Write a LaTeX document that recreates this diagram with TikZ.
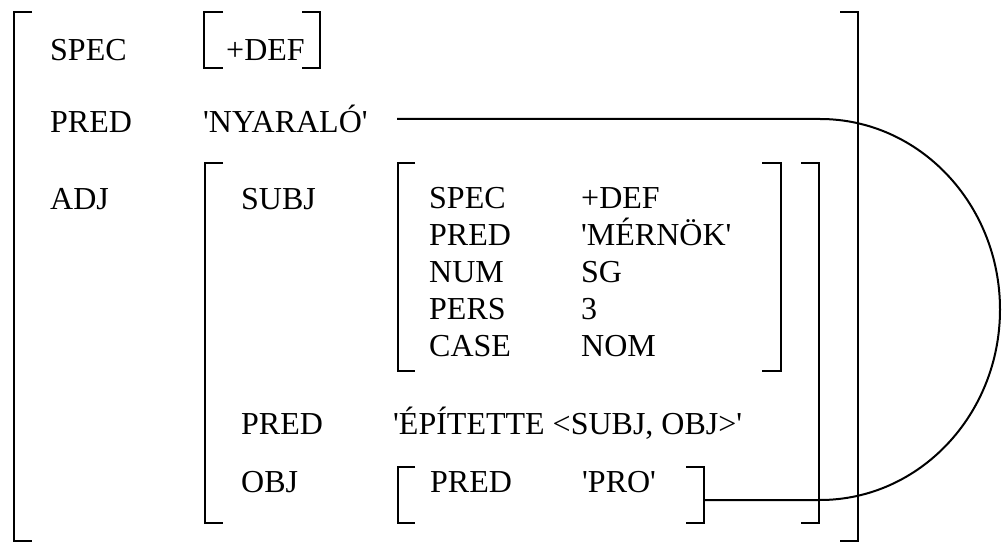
\documentclass[tikz,border=0pt]{standalone}
\usepackage{fontspec}
\setmainfont{Liberation Serif}[Ligatures=TeXOff]
\begin{document}
\begin{tikzpicture}[x=1pt,y=-1pt,
  lbl/.style={anchor=base west,inner sep=0pt,font=\fontsize{32}{38}\selectfont},
  brk/.style={line width=2.4pt,line cap=butt,line join=miter},
  link/.style={line width=2pt}]
\useasboundingbox (0,0) rectangle (1002,545);
% outer brackets
\draw[brk] (32,12) -| (14,541) -- (32,541);
\draw[brk] (840,12) -| (858,541) -- (840,541);
% +DEF brackets
\draw[brk] (223,12) -| (204,68) -- (223,68);
\draw[brk] (302,12) -| (320,68) -- (302,68);
% ADJ brackets
\draw[brk] (223,163) -| (205,523) -- (223,523);
\draw[brk] (801,163) -| (819,523) -- (801,523);
% SUBJ brackets
\draw[brk] (415,163) -| (398,371) -- (415,371);
\draw[brk] (762,163) -| (781,371) -- (762,371);
% OBJ brackets
\draw[brk] (415,467) -| (398,523) -- (415,523);
\draw[brk] (686,467) -| (704,523) -- (686,523);
% top level
\node[lbl] (spec) at (50,61) {SPEC};
\node[lbl] (def) at (226,61) {+DEF};
\node[lbl] (pred) at (50,133) {PRED};
\node[lbl] (nyaralo) at (203,133) {'NYARALÓ'};
\node[lbl] (adj) at (50,210) {ADJ};
% ADJ level
\node[lbl] (subj) at (241,210) {SUBJ};
\node[lbl] (apred) at (241,435) {PRED};
\node[lbl] (epitette) at (393,435) {'ÉPÍTETTE <SUBJ, OBJ>'};
\node[lbl] (obj) at (241,492) {OBJ};
% SUBJ block
\node[lbl] (sspec) at (429,209) {SPEC};
\node[lbl] (spred) at (429,246) {PRED};
\node[lbl] (snum) at (429,283) {NUM};
\node[lbl] (spers) at (429,320) {PERS};
\node[lbl] (scase) at (429,357) {CASE};
\node[lbl] (sdef) at (581,209) {+DEF};
\node[lbl] (smern) at (581,246) {'MÉRNÖK'};
\node[lbl] (ssg) at (581,283) {SG};
\node[lbl] (s3) at (581,320) {3};
\node[lbl] (snom) at (581,357) {NOM};
% OBJ block
\node[lbl] (opred) at (430,492) {PRED};
\node[lbl] (opro) at (582,492) {'PRO'};
% connector
\coordinate (lstart) at (397,119);
\coordinate (ltop) at (820,119);
\coordinate (lbot) at (820,500);
\coordinate (objr) at (704,500);
\draw[link] (lstart) -- (ltop)
  .. controls (919.4,119) and (1000,204.3) .. (1000,309.5)
  .. controls (1000,414.7) and (919.4,500) .. (lbot) -- (objr);
\end{tikzpicture}
\end{document}
